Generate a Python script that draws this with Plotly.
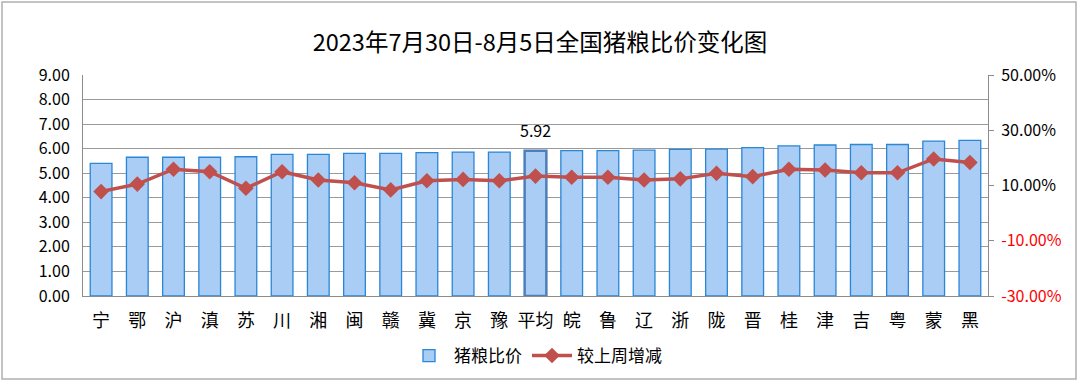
import plotly.graph_objects as go

categories = ["宁", "鄂", "沪", "滇", "苏", "川", "湘", "闽", "赣", "冀", "京", "豫", "平均",
              "皖", "鲁", "辽", "浙", "陇", "晋", "桂", "津", "吉", "粤", "蒙", "黑"]
ratio = [5.40, 5.65, 5.65, 5.65, 5.67, 5.77, 5.77, 5.81, 5.81, 5.84, 5.86, 5.86, 5.92,
         5.92, 5.92, 5.94, 5.97, 5.98, 6.04, 6.11, 6.15, 6.17, 6.17, 6.31, 6.34]
change_pct = [7.8, 10.5, 15.9, 15.0, 9.0, 15.0, 12.0, 11.0, 8.4, 11.7, 12.2, 11.7, 13.4,
              13.0, 13.0, 12.0, 12.4, 14.4, 13.2, 15.9, 15.6, 14.6, 14.6, 19.6, 18.3]
left_ticks = [0, 1, 2, 3, 4, 5, 6, 7, 8, 9]
right_ticks = [-30, -10, 10, 30, 50]

avg_name = "平均"
line_w = [2.5 if c == avg_name else 1.3 for c in categories]
line_c = ["#4f7fb8" if c == avg_name else "#2a86d6" for c in categories]

font_family = "Noto Sans CJK SC, Noto Sans, sans-serif"

fig = go.Figure()
fig.add_trace(go.Bar(
    x=categories, y=ratio, name="猪粮比价",
    marker=dict(color="#a9cdf4", line=dict(color=line_c, width=line_w)),
    yaxis="y",
))
fig.add_trace(go.Scatter(
    x=categories, y=change_pct, name="较上周增减", mode="lines+markers",
    line=dict(color="#c0504d", width=3.5),
    marker=dict(symbol="diamond", size=12, color="#c0504d"),
    yaxis="y2",
))

avg_idx = categories.index(avg_name)
fig.add_annotation(x=avg_name, y=ratio[avg_idx], yref="y", text=f"{ratio[avg_idx]:.2f}",
                   showarrow=False, yshift=21, font=dict(size=16, color="#000000", family=font_family))

right_text = []
for v in right_ticks:
    s = f"{v:.2f}%"
    if v < 0:
        s = f"<span style='color:#ff0000'>{s}</span>"
    right_text.append(s)

fig.update_layout(
    width=1080, height=383,
    margin=dict(l=83, r=92, t=75, b=87, autoexpand=False),
    paper_bgcolor="white", plot_bgcolor="white",
    font=dict(family=font_family, color="#000000"),
    title=dict(text="2023年7月30日-8月5日全国猪粮比价变化图", x=0.5, xanchor="center",
               y=1 - 43 / 383, yanchor="middle", font=dict(size=23.5, color="#000000")),
    bargap=0.4,
    showlegend=True,
    legend=dict(orientation="h", x=0.5, xanchor="center", y=-0.19, yanchor="top",
                font=dict(size=17), traceorder="normal", itemwidth=40),
    xaxis=dict(type="category", range=[-0.5, len(categories) - 0.5], showgrid=False,
               showline=True, linecolor="#8c8c8c", automargin=False,
               linewidth=1, ticks="", tickfont=dict(size=18), ticklabelstandoff=8),
    yaxis=dict(range=[0, 9], tickvals=left_ticks, tickformat=".2f", showgrid=True,
               gridcolor="#9a9a9a", gridwidth=1, showline=True, linecolor="#8c8c8c",
               tickfont=dict(size=16), ticks="", zeroline=False, automargin=False,
               ticklabelstandoff=9),
    yaxis2=dict(range=[-30, 50], tickvals=right_ticks, ticktext=right_text, overlaying="y",
                side="right", showgrid=False, showline=True, linecolor="#8c8c8c",
                ticks="outside", ticklen=5, tickcolor="#8c8c8c", tickfont=dict(size=16),
                zeroline=False, automargin=False, ticklabelstandoff=4),
)

# outer chart border
pw, ph = 1080 - 83 - 92, 383 - 75 - 87
fig.add_shape(type="rect", xref="paper", yref="paper",
              x0=(2 - 83) / pw, x1=(1076 - 83) / pw,
              y0=(296 - 379) / ph, y1=(296 - 2) / ph,
              line=dict(color="#b0b0b0", width=1.5), fillcolor="rgba(0,0,0,0)", layer="below")

fig.write_html("out.html", config={"displayModeBar": False},
               post_script="document.body.style.margin='0';document.body.style.overflow='hidden';")
